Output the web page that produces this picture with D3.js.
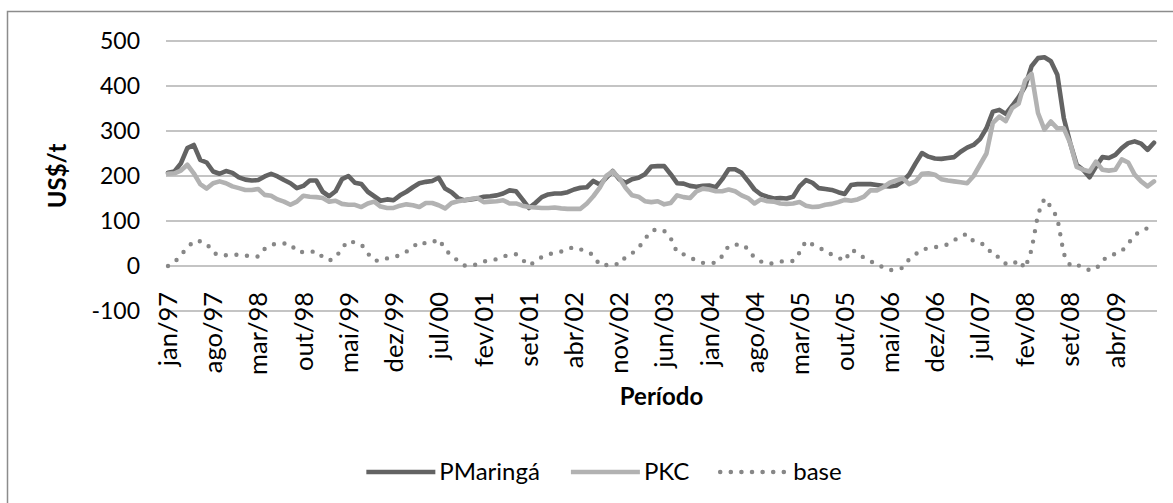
<!DOCTYPE html>
<html><head><meta charset="utf-8">
<script src="https://cdnjs.cloudflare.com/ajax/libs/d3/7.8.5/d3.min.js"></script>
<style>
html,body{margin:0;padding:0;background:#fff;}
svg{display:block;font-family:Lato,"Open Sans",sans-serif;}
</style></head>
<body>
<svg id="chart" width="1173" height="503"></svg>
<script>
const monthNames = ["jan","fev","mar","abr","mai","jun","jul","ago","set","out","nov","dez"];
const years = ["97","98","99","00","01","02","03","04","05","06","07","08","09"];
const nPoints = 154; // jan/97 .. out/09
const categories = [];
for (const y of years) for (const m of monthNames) if (categories.length < nPoints) categories.push(m + "/" + y);

const tickLabels = ["jan/97","ago/97","mar/98","out/98","mai/99","dez/99","jul/00","fev/01","set/01","abr/02","nov/02","jun/03","jan/04","ago/04","mar/05","out/05","mai/06","dez/06","jul/07","fev/08","set/08","abr/09"];
const yTicks = [-100, 0, 100, 200, 300, 400, 500];

const pMaringa = [
 207,210,228,262,269,236,230,210,205,211,
 207,197,192,190,191,199,205,199,191,184,
 173,178,190,190,165,155,166,193,200,185,
 182,165,155,145,148,146,157,165,175,184,
 187,189,196,172,164,151,146,148,150,154,
 155,157,161,168,166,148,129,140,153,159,
 161,161,164,170,174,175,189,181,196,211,
 193,185,193,196,204,221,222,222,204,184,
 183,178,176,178,179,175,193,215,215,207,
 189,170,159,154,150,151,150,154,177,191,
 185,173,171,169,164,160,180,182,182,182,
 180,178,177,179,188,203,228,251,243,239,
 238,240,242,254,263,269,282,306,343,347,
 338,356,375,399,444,462,464,455,425,329,
 273,225,214,197,221,242,240,247,262,273,
 277,272,258,274];

const pkc = [
 205,206,212,225,206,182,172,184,188,184,
 177,173,169,169,171,158,156,148,143,136,
 143,156,154,153,151,143,145,138,136,136,
 131,139,143,132,129,129,134,137,135,131,
 140,140,135,128,140,144,146,149,151,142,
 143,144,146,139,139,134,131,130,129,129,
 130,128,127,127,127,139,155,174,200,210,
 196,174,157,154,144,142,144,137,140,157,
 153,151,166,172,170,166,166,170,166,157,
 151,139,148,144,143,139,138,139,142,134,
 131,132,136,138,142,147,145,148,154,168,
 168,175,185,190,195,182,188,205,206,203,
 193,190,188,186,184,200,225,250,318,332,
 322,351,361,412,427,340,303,321,306,306,
 273,220,214,210,232,214,212,214,237,230,
 203,188,177,188];

const base = [
 0,8,25,40,56,55,50,30,23,24,
 25,25,23,22,21,38,47,50,50,49,
 32,31,31,33,20,12,18,40,56,52,
 48,28,12,12,17,20,24,32,42,54,
 50,52,60,38,22,12,1,0,4,10,
 13,15,21,25,26,14,1,10,20,26,
 29,32,38,42,37,33,24,2,2,6,
 3,20,28,40,60,78,82,78,62,30,
 26,19,12,7,7,7,22,45,47,49,
 38,18,10,5,6,10,11,11,30,56,
 48,40,35,25,19,11,36,30,18,10,
 6,-4,-9,-8,-4,15,26,37,39,42,
 44,48,57,67,71,55,51,45,23,20,
 5,3,13,-5,36,115,150,131,107,27,
 1,4,-5,-9,-7,12,23,27,33,50,
 68,79,84,88];

const series = [
  {name:"PMaringá", values:pMaringa, color:"#636363", dash:null},
  {name:"PKC", values:pkc, color:"#b2b2b2", dash:null},
  {name:"base", values:base, color:"#878787", dash:"0 10.6"}
];

const svg = d3.select("#chart");
const plot = {left:166, right:1157, top:41, bottom:311};

const x = d3.scalePoint().domain(categories).range([168, 1154]);
const y = d3.scaleLinear().domain([-100, 500]).range([plot.bottom, plot.top]);

// outer chart border
svg.append("rect").attr("x",7.5).attr("y",11.5).attr("width",1220).attr("height",540)
  .attr("fill","#fff").attr("stroke","#8c8c8c").attr("stroke-width",1.5);

// gridlines
svg.append("g").selectAll("line").data(yTicks).join("line")
  .attr("x1",plot.left).attr("x2",plot.right)
  .attr("y1",d=>y(d)).attr("y2",d=>y(d))
  .attr("stroke","#8a8a8a").attr("stroke-width",1.2);

// y tick labels
const yAxis = d3.axisLeft(y).tickValues(yTicks).tickSize(0).tickPadding(0).tickFormat(d=>String(d));
const gy = svg.append("g").attr("transform","translate(140,0)").call(yAxis);
gy.select(".domain").remove();
gy.selectAll("text").attr("font-size",23).attr("fill","#000").attr("font-family","Lato");

// x tick labels (rotated, hanging below the zero line)
const gx = svg.append("g");
gx.selectAll("text").data(tickLabels).join("text")
  .attr("transform",d=>`translate(${x(d)},292) rotate(-90)`)
  .attr("text-anchor","end").attr("dy","0.36em")
  .attr("font-size",25.5).attr("fill","#000").text(d=>d);

// lines
const line = d3.line().x((d,i)=>x(categories[i])).y(d=>y(d));
svg.append("g").selectAll("path").data(series).join("path")
  .attr("d",d=>line(d.values))
  .attr("fill","none").attr("stroke",d=>d.color)
  .attr("stroke-width",d=>d.dash?4.4:4.6)
  .attr("stroke-linejoin","round").attr("stroke-linecap","round")
  .attr("stroke-dasharray",d=>d.dash);

// axis titles
svg.append("text").attr("transform","translate(66,176) rotate(-90)")
  .attr("text-anchor","middle").attr("font-weight","bold").attr("font-size",24).text("US$/t");
svg.append("text").attr("x",(plot.left+plot.right)/2).attr("y",405)
  .attr("text-anchor","middle").attr("font-weight","bold").attr("font-size",24).text("Período");

// legend
const lg = svg.append("g");
const sampleW = 69, textGap = 4, itemGap = 31, legendY = 472, legendCenter = 604;
const items = lg.selectAll("g").data(series).join("g");
items.append("line").attr("x1",0).attr("x2",sampleW).attr("y1",0).attr("y2",0)
  .attr("stroke",d=>d.color).attr("stroke-width",4.6).attr("stroke-linecap",d=>d.dash?"round":"butt")
  .attr("stroke-dasharray",d=>d.dash);
items.append("text").attr("x",sampleW+textGap).attr("dy","0.35em")
  .attr("font-size",24).text(d=>d.name);
let widths = [];
items.each(function(){ widths.push(sampleW+textGap+this.querySelector("text").getComputedTextLength()); });
const total = d3.sum(widths) + itemGap*(widths.length-1);
let cx = legendCenter - total/2;
items.each(function(d,i){ d3.select(this).attr("transform",`translate(${cx},${legendY})`); cx += widths[i]+itemGap; });
</script>
</body></html>
